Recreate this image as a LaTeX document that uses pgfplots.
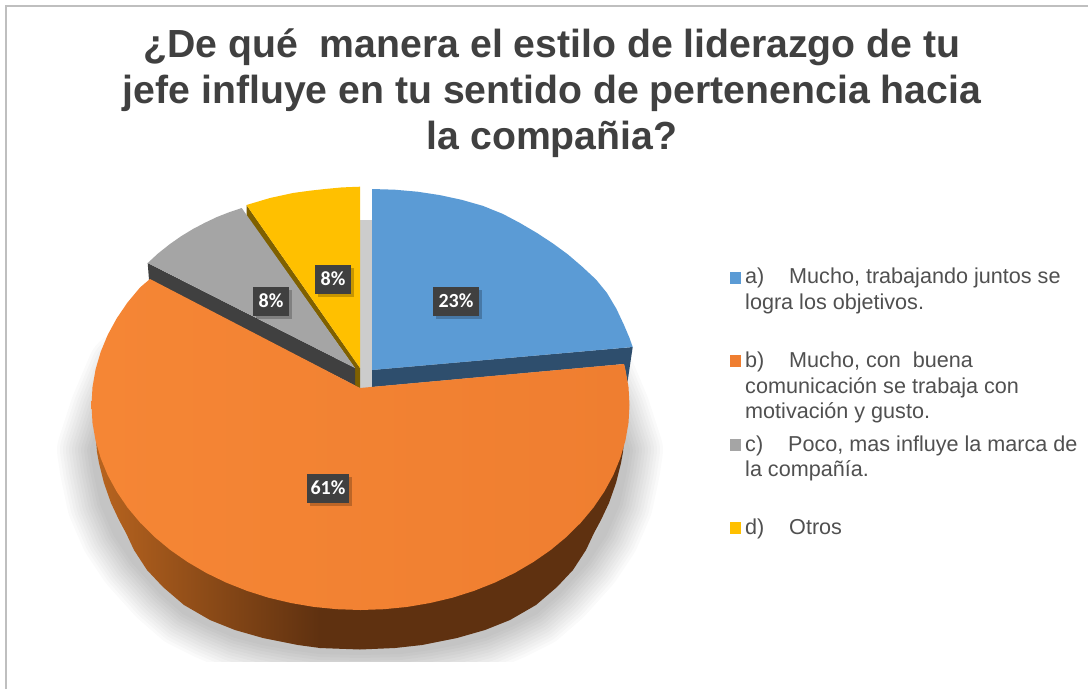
\documentclass[border=0pt]{standalone}
\usepackage{fontspec}
\usepackage{pgfplots}
\pgfplotsset{compat=1.18}
\setmainfont{Liberation Sans}
\newfontfamily\lab{Carlito}
\definecolor{cblue}{HTML}{5B9BD5}
\definecolor{cnavy}{HTML}{2E4E6D}
\definecolor{coA}{HTML}{F58635}
\definecolor{coB}{HTML}{EF7E30}
\definecolor{cgrey}{HTML}{A5A5A5}
\definecolor{cdgrey}{HTML}{404040}
\definecolor{cyel}{HTML}{FFC000}
\definecolor{cdyel}{HTML}{7F6000}
\definecolor{cwallA}{HTML}{B8641F}
\definecolor{cwallB}{HTML}{5F3110}
\definecolor{ctext}{HTML}{404040}
\definecolor{cleg}{HTML}{505050}
\pgfplotstableread{
x y
125 370
108 410
95 450
98 470
105 503
118 533
136 560
163 590
186 610
210 622
236 633
263 640
290 645
320 649
360 650
400 649
430 645
457 640
484 633
510 622
534 610
557 590
584 560
602 533
615 503
622 470
625 450
612 410
595 370
}\shadowtable
\newcommand{\shadowlayer}[1]{\addplot[draw=black,fill=none,opacity=0.02,line width=#1pt,line join=round] table {\shadowtable} -- cycle;}
\newcommand{\lbl}[4]{%
\node[fill=black,opacity=0.22,minimum width=#3pt,minimum height=29pt,inner sep=0pt] at (axis cs:#1+3,#2+3) {};
\node[fill=cdgrey,text=white,minimum width=#3pt,minimum height=29pt,inner sep=0pt,font=\lab\bfseries\fontsize{20}{22}\selectfont] at (axis cs:#1,#2) {#4};}
\newcommand{\leg}[3]{\node[anchor=base west,inner sep=0pt,text=cleg,font=\fontsize{21.6}{24}\selectfont] at (axis cs:#1,#2) {#3};}
\newcommand{\ttl}[2]{\node[anchor=base,inner sep=0pt,text=ctext,font=\bfseries\fontsize{39.2}{46}\selectfont] at (axis cs:552,#1) {#2};}
\begin{document}
\begin{tikzpicture}
\begin{axis}[hide axis,scale only axis,width=1088pt,height=689pt,
  xmin=0,xmax=1088,ymin=0,ymax=689,y dir=reverse,clip=true]
\addplot[fill=white,draw=none] coordinates {(0,0) (1088,0) (1088,689) (0,689)} -- cycle;
% soft shadow
\shadowlayer{76}
\shadowlayer{70}
\shadowlayer{64}
\shadowlayer{58}
\shadowlayer{52}
\shadowlayer{46}
\shadowlayer{40}
\shadowlayer{34}
\shadowlayer{28}
\shadowlayer{22}
\shadowlayer{16}
\shadowlayer{10}
\addplot[fill=white,draw=none] coordinates {(0,662) (1088,662) (1088,689) (0,689)} -- cycle;
% light strip
\addplot[fill=black!20,draw=none] coordinates {(358,220) (373,220) (373,390) (358,390)} -- cycle;
% blue wall
\addplot[fill=cnavy,draw=none] coordinates {(372,370) (632.7,347) (627.5,382) (624,364) (372,387)} -- cycle;
% blue top
\addplot[fill=cblue,draw=none] coordinates {(372,370) (372,189) (394.8,189.7) (417.5,191.7) (439.8,195.1) (461.6,199.8) (482.7,205.8) (503,214) (520,223) (537,233) (553,243.5) (568,254.5) (582,266.5) (596,279.5) (607,293) (616.5,309) (624,325) (629.5,338) (632.7,347)} -- cycle;
% yellow wall and top
\addplot[fill=cdyel,draw=none] coordinates {(246.5,205) (360,368) (360,388) (355,386) (355,368) (246.5,216)} -- cycle;
\addplot[fill=cyel,draw=none] coordinates {(360,368) (360,186.7) (342,187.4) (325,189) (309,190.8) (293,193) (270,198) (246.5,205)} -- cycle;
% grey wall and top
\addplot[fill=cdgrey,draw=none] coordinates {(147.7,263) (355,368) (355,386) (360,388) (149,280)} -- cycle;
\addplot[fill=cgrey,draw=none] coordinates {(355,368) (241.7,208) (229,212.3) (217,217) (205,222.7) (193,229) (181,236.3) (170,244) (158,253.5) (147.7,263)} -- cycle;
% orange wall
\addplot[left color=cwallA,right color=cwallB,draw=none] coordinates {(320,440) (96,440) (97,452) (99,463) (104,483) (111,503) (119,520) (126,533) (134,550) (147,570) (163,587) (184,605) (210,620) (235,630) (263,638) (298,645) (320,648)} -- cycle;
\addplot[fill=cwallB,draw=none] coordinates {(319.5,440) (624,440) (623,452) (621,463) (616,483) (609,503) (601,520) (594,533) (586,550) (573,570) (557,587) (536,605) (510,620) (485,630) (457,638) (422,645) (395,648) (360,649.5) (319.5,648)} -- cycle;
% orange top
\addplot[left color=coA,right color=coB,draw=none] coordinates {(360,388) (624,364) (625.4,369.4) (628.5,387.1) (629.5,405) (628.5,422.9) (625.4,440.6) (620.3,458.1) (613.3,475.1) (604.3,491.6) (593.5,507.5) (580.9,522.6) (566.6,536.8) (550.7,550) (533.4,562) (514.8,572.9) (495,582.5) (474.2,590.8) (452.5,597.7) (430.1,603) (407.3,606.9) (384,609.2) (360.5,610) (337,609.2) (313.7,606.9) (290.9,603) (268.5,597.7) (246.8,590.8) (226,582.5) (206.2,572.9) (187.6,562) (170.3,550) (154.4,536.8) (140.1,522.6) (127.5,507.5) (116.7,491.6) (107.7,475.1) (100.7,458.1) (95.6,440.6) (92.5,422.9) (91.5,405) (92.5,387.1) (95.6,369.4) (100.7,351.9) (107.7,334.9) (116.7,318.4) (127.5,302.5) (140.1,287.4) (150,279)} -- cycle;
% frame
\addplot[color=black!25,line width=2pt,line join=miter] coordinates {(6,689) (6,6) (1088,6)};
% legend squares
\addplot[fill=cblue,draw=none] coordinates {(729.5,272) (740.5,272) (740.5,283.5) (729.5,283.5)} -- cycle;
\addplot[fill=coB,draw=none] coordinates {(729.5,355) (740.5,355) (740.5,366.5) (729.5,366.5)} -- cycle;
\addplot[fill=cgrey,draw=none] coordinates {(729.5,439) (740.5,439) (740.5,450.5) (729.5,450.5)} -- cycle;
\addplot[fill=cyel,draw=none] coordinates {(729.5,522) (740.5,522) (740.5,533.5) (729.5,533.5)} -- cycle;
% title
\ttl{57}{¿De qué\ \ manera el estilo de liderazgo de tu}
\ttl{103}{jefe influye en tu sentido de pertenencia hacia}
\ttl{149}{la compañia?}
% labels
\lbl{333}{279}{36}{8\%}
\lbl{271}{301}{36}{8\%}
\lbl{456}{301}{46}{23\%}
\lbl{328}{488}{42}{61\%}
% legend text
\leg{745}{283}{a)}
\leg{789}{283}{Mucho, trabajando juntos se}
\leg{745}{309}{logra los objetivos.}
\leg{745}{367}{b)}
\leg{789}{367}{Mucho, con\ \ buena}
\leg{745}{393}{comunicación se trabaja con}
\leg{745}{418}{motivación y gusto.}
\leg{745}{451}{c)}
\leg{788}{451}{Poco, mas influye la marca de}
\leg{745}{476}{la compañía.}
\leg{745}{534}{d)}
\leg{789}{534}{Otros}
\end{axis}
\end{tikzpicture}
\end{document}
